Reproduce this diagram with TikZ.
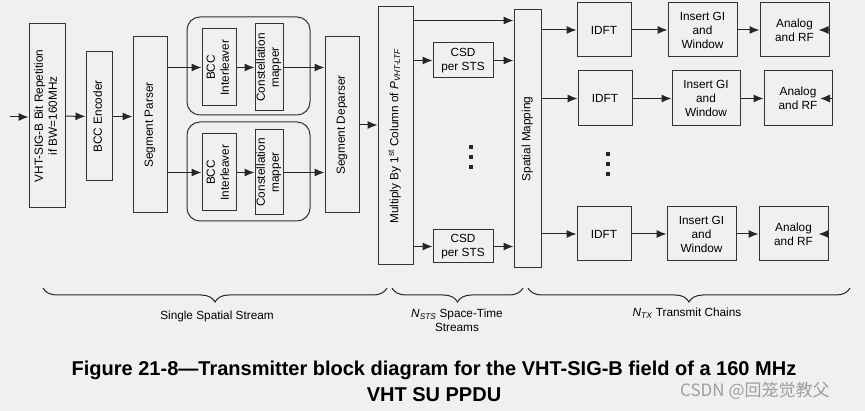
\documentclass[tikz,border=0pt]{standalone}
\usepackage{fontspec}
\setmainfont{Liberation Sans}
\newfontfamily\cjk{Noto Sans CJK SC}
\usetikzlibrary{arrows.meta,decorations.pathreplacing}
\newcommand{\vtxt}[1]{\rotatebox{90}{\begin{tabular}{@{}c@{}}#1\end{tabular}}}

\begin{document}
\begin{tikzpicture}[x=1pt, y=-1pt]
  %
  \tikzstyle{bx} = [draw=black!80, line width=1pt, inner sep=0pt, align=center, font=\fontsize{11.8}{14}\selectfont]
  \tikzstyle{gp} = [draw=black!80, line width=1pt, rounded corners=13pt, minimum width=123pt, inner sep=0pt]
  \tikzstyle{ar} = [draw=black!85, line width=1pt, -{Latex[length=10pt, width=8pt]}]
  \tikzstyle{br} = [draw=black!85, line width=1pt, decorate, decoration={brace, mirror, amplitude=14pt}]
  \tikzstyle{lb} = [font=\fontsize{11.8}{14}\selectfont, align=center, inner sep=0pt]
  \fill[black!6] (0,0) rectangle (865,411);
  \useasboundingbox (0,0) rectangle (865,411);

  % single spatial stream
  \coordinate (in) at (10,117);
  \node[bx, minimum width=36pt, minimum height=184pt] (rep) at (47,116) {\vtxt{VHT-SIG-B Bit Repetition\\if BW=160MHz}};
  \node[bx, minimum width=26pt, minimum height=129pt] (enc) at (99,116.5) {\vtxt{BCC Encoder}};
  \node[bx, minimum width=34pt, minimum height=176pt] (par) at (150,125) {\vtxt{Segment Parser}};
  \node[gp, minimum height=98pt] (grp1) at (248.5,66) {};
  \node[gp, minimum height=99pt] (grp2) at (248.5,171.5) {};
  \node[bx, minimum width=34pt, minimum height=77pt] (il1) at (219,67.5) {\vtxt{BCC\\Interleaver}};
  \node[bx, minimum width=26pt, minimum height=87pt] (cm1) at (269,67.5) {\vtxt{Constellation\\mapper}};
  \node[bx, minimum width=34pt, minimum height=77pt] (il2) at (219,172.5) {\vtxt{BCC\\Interleaver}};
  \node[bx, minimum width=26pt, minimum height=85pt] (cm2) at (269,172.5) {\vtxt{Constellation\\mapper}};
  \node[bx, minimum width=34pt, minimum height=176pt] (dep) at (342,125) {\vtxt{Segment Deparser}};

  % space-time streams
  \node[bx, minimum width=35pt, minimum height=258pt] (mul) at (395.5,136) {\vtxt{Multiply By 1\textsuperscript{st} Column of \textit{P}\textsubscript{\textit{VHT-LTF}}}};
  \node[bx, minimum width=60pt, minimum height=35pt] (csd1) at (463,60.5) {CSD\\per STS};
  \node[bx, minimum width=60pt, minimum height=33pt] (csd2) at (463,246.5) {CSD\\per STS};
  \node[bx, minimum width=27pt, minimum height=258pt] (spm) at (527.5,139) {\vtxt{Spatial Mapping}};

  % transmit chains
  \node[bx, minimum width=54pt, minimum height=54pt] (idft1) at (604,30) {IDFT};
  \node[bx, minimum width=69pt, minimum height=54pt] (gi1) at (702.5,30) {Insert GI\\and\\Window};
  \node[bx, minimum width=69pt, minimum height=54pt] (rf1) at (794.5,30) {Analog\\and RF};
  \node[bx, minimum width=54pt, minimum height=55pt] (idft2) at (605,98.5) {IDFT};
  \node[bx, minimum width=68pt, minimum height=55pt] (gi2) at (706,98.5) {Insert GI\\and\\Window};
  \node[bx, minimum width=68pt, minimum height=55pt] (rf2) at (798,98.5) {Analog\\and RF};
  \node[bx, minimum width=54pt, minimum height=54pt] (idft3) at (604,234) {IDFT};
  \node[bx, minimum width=69pt, minimum height=54pt] (gi3) at (701.5,234) {Insert GI\\and\\Window};
  \node[bx, minimum width=69pt, minimum height=54pt] (rf3) at (793.5,234) {Analog\\and RF};

  % connectors
  \draw[ar] (in) -- (in -| rep.west);
  \draw[ar] (rep) -- (enc);
  \draw[ar] (enc) -- (enc -| par.west);
  \draw[ar] (par.east |- il1) -- (il1);
  \draw[ar] (il1) -- (cm1);
  \draw[ar] (cm1) -- (cm1 -| dep.west);
  \draw[ar] (par.east |- il2) -- (il2);
  \draw[ar] (il2) -- (cm2);
  \draw[ar] (cm2) -- (cm2 -| dep.west);
  \draw[ar] (dep) -- (dep -| mul.west);
  \draw[ar] ([yshift=-14pt]mul.north east) coordinate (top) -- (top -| spm.west);
  \draw[ar] (mul.east |- csd1) -- (csd1);
  \draw[ar] (csd1) -- (csd1 -| spm.west);
  \draw[ar] (mul.east |- csd2) -- (csd2);
  \draw[ar] (csd2) -- (csd2 -| spm.west);
  \draw[ar] (spm.east |- idft1) -- (idft1);
  \draw[ar] (idft1) -- (gi1);
  \draw[ar] (gi1) -- (rf1);
  \draw[ar] (rf1) -- ++(24,0);
  \draw[ar] (spm.east |- idft2) -- (idft2);
  \draw[ar] (idft2) -- (gi2);
  \draw[ar] (gi2) -- (rf2);
  \draw[ar] (rf2) -- ++(22,0);
  \draw[ar] (spm.east |- idft3) -- (idft3);
  \draw[ar] (idft3) -- (gi3);
  \draw[ar] (gi3) -- (rf3);
  \draw[ar] (rf3) -- ++(25,0);

  % dots
  \fill[black!85] (469.3,145.3) rectangle (472.7,148.7);
  \fill[black!85] (469.3,155.3) rectangle (472.7,158.7);
  \fill[black!85] (469.3,165.3) rectangle (472.7,168.7);
  \fill[black!85] (606.3,152.3) rectangle (609.7,155.7);
  \fill[black!85] (606.3,162.3) rectangle (609.7,165.7);
  \fill[black!85] (606.3,172.3) rectangle (609.7,175.7);

  % braces
  \draw[br] (43,288) -- (387,288);
  \draw[br] (392,288) -- (523,288);
  \draw[br] (528,288) -- (850,288);
  \node[lb] (ssl) at (217,316) {Single Spatial Stream};
  \node[lb] (stl) at (457,320) {\textit{N}\textsubscript{\textit{STS}} Space-Time\\Streams};
  \node[lb] (txl) at (687,313) {\textit{N}\textsubscript{\textit{TX}} Transmit Chains};

  % caption
  \node[inner sep=0pt, align=center, font=\bfseries\fontsize{20}{26}\selectfont] (cap) at (434,381.7) {Figure 21-8---Transmitter block diagram for the VHT-SIG-B field of a 160 MHz\\VHT SU PPDU};
  \node[anchor=base west, inner sep=0pt, text=black!38, font=\cjk\fontsize{17}{20}\selectfont] (wm) at (680,397) {CSDN @回笼觉教父};
\end{tikzpicture}
\end{document}
